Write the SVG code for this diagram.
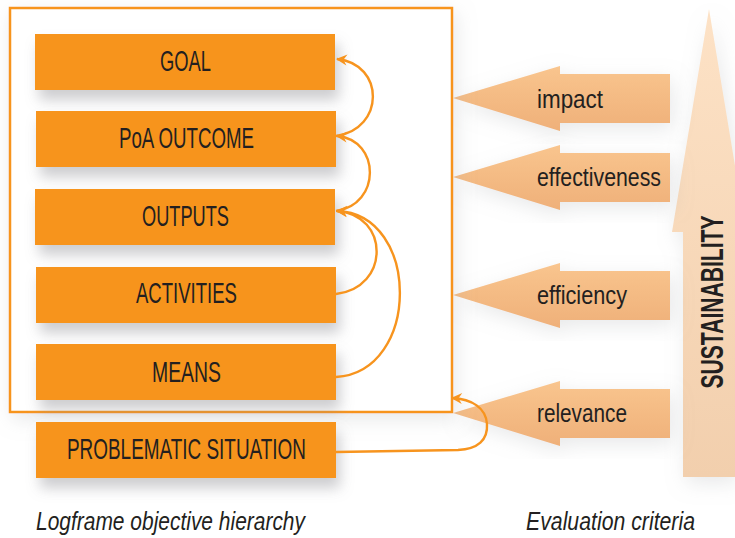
<svg xmlns="http://www.w3.org/2000/svg" xmlns:xlink="http://www.w3.org/1999/xlink" width="735" height="538" viewBox="0 0 735 538">
  <defs>
    <style>
      .box { fill: #F7941E; }
      .lbl { font-family: "Liberation Sans", Arial, sans-serif; font-size: 29px; fill: #231F20; text-anchor: middle; }
      .crit { font-family: "Liberation Sans", Arial, sans-serif; font-size: 26px; fill: #231F20; }
      .cap { font-family: "Liberation Sans", Arial, sans-serif; font-size: 25px; font-style: italic; fill: #231F20; }
      .conn { fill: none; stroke: #F7941E; stroke-width: 2.4; }
    </style>
    <filter id="shadow" x="-20%" y="-40%" width="150%" height="200%">
      <feDropShadow dx="4" dy="10" stdDeviation="7" flood-color="#8f9196" flood-opacity="0.45"/>
    </filter>
    <filter id="softshadow" x="-20%" y="-20%" width="140%" height="140%">
      <feDropShadow dx="3" dy="6" stdDeviation="10" flood-color="#a0a4a8" flood-opacity="0.25"/>
    </filter>
    <linearGradient id="critGrad" x1="0" y1="0" x2="0" y2="1">
      <stop offset="0" stop-color="#F9C58E"/>
      <stop offset="1" stop-color="#EFB079"/>
    </linearGradient>
    <linearGradient id="susGrad" x1="0" y1="0" x2="0" y2="1">
      <stop offset="0" stop-color="#FDE2C6"/>
      <stop offset="1" stop-color="#F2CFAD"/>
    </linearGradient>
    <path id="critArrow" d="M0,0 L107,-32 L107,-24 L217,-24 L217,25 L107,25 L107,33 Z"/>
    <marker id="barb" viewBox="-12 -7 14 14" markerWidth="14" markerHeight="14" refX="0" refY="0" orient="auto" markerUnits="userSpaceOnUse">
      <path d="M1,0 L-10,-5.5 L-6.5,0 L-10,5.5 Z" fill="#F7941E"/>
    </marker>
  </defs>

  <rect width="735" height="538" fill="#ffffff"/>

  <!-- Sustainability arrow -->
  <g id="sustainability">
    <polygon points="709,9 746,232 735,232 735,477 683,477 683,232 672,232" fill="url(#susGrad)" filter="url(#softshadow)"/>
    <text transform="translate(723,302) rotate(-90)" font-family="Liberation Sans, Arial, sans-serif" font-size="31" font-weight="bold" fill="#231F20" text-anchor="middle" textLength="173" lengthAdjust="spacingAndGlyphs">SUSTAINABILITY</text>
  </g>

  <!-- Evaluation criteria arrows -->
  <g id="impact">
    <use xlink:href="#critArrow" x="453" y="98" fill="url(#critGrad)" filter="url(#softshadow)"/>
    <text class="crit" x="537" y="108" textLength="66" lengthAdjust="spacingAndGlyphs">impact</text>
  </g>
  <g id="effectiveness">
    <use xlink:href="#critArrow" x="453" y="177" fill="url(#critGrad)" filter="url(#softshadow)"/>
    <text class="crit" x="537" y="186" textLength="124" lengthAdjust="spacingAndGlyphs">effectiveness</text>
  </g>
  <g id="efficiency">
    <use xlink:href="#critArrow" x="453" y="295" fill="url(#critGrad)" filter="url(#softshadow)"/>
    <text class="crit" x="537" y="304" textLength="90" lengthAdjust="spacingAndGlyphs">efficiency</text>
  </g>
  <g id="relevance">
    <use xlink:href="#critArrow" x="453" y="413" fill="url(#critGrad)" filter="url(#softshadow)"/>
    <text class="crit" x="537" y="422" textLength="90" lengthAdjust="spacingAndGlyphs">relevance</text>
  </g>

  <!-- Logframe frame -->
  <g id="logframe">
    <rect x="10" y="8" width="442" height="404" fill="#ffffff" stroke="#F7941E" stroke-width="2.5" filter="url(#softshadow)"/>
  </g>

  <g id="goal">
    <rect class="box" x="35" y="34" width="300" height="56" filter="url(#shadow)"/>
    <text class="lbl" x="185.5" y="71" textLength="51" lengthAdjust="spacingAndGlyphs">GOAL</text>
  </g>
  <g id="poa-outcome">
    <rect class="box" x="36" y="111" width="300" height="56" filter="url(#shadow)"/>
    <text class="lbl" x="186.5" y="148" textLength="135" lengthAdjust="spacingAndGlyphs">PoA OUTCOME</text>
  </g>
  <g id="outputs">
    <rect class="box" x="35" y="189" width="300" height="56" filter="url(#shadow)"/>
    <text class="lbl" x="185.5" y="226" textLength="87" lengthAdjust="spacingAndGlyphs">OUTPUTS</text>
  </g>
  <g id="activities">
    <rect class="box" x="36" y="267" width="300" height="56" filter="url(#shadow)"/>
    <text class="lbl" x="186.5" y="303" textLength="101" lengthAdjust="spacingAndGlyphs">ACTIVITIES</text>
  </g>
  <g id="means">
    <rect class="box" x="36" y="344" width="300" height="56" filter="url(#shadow)"/>
    <text class="lbl" x="186.5" y="382" textLength="69" lengthAdjust="spacingAndGlyphs">MEANS</text>
  </g>
  <g id="problematic-situation">
    <rect class="box" x="36" y="422" width="300" height="56" filter="url(#shadow)"/>
    <text class="lbl" x="186.5" y="459" textLength="239" lengthAdjust="spacingAndGlyphs">PROBLEMATIC SITUATION</text>
  </g>

  <!-- Connectors -->
  <g id="connectors">
    <path class="conn" marker-end="url(#barb)" d="M336,136 C385,129 385,64 337,59"/>
    <path class="conn" marker-end="url(#barb)" d="M336,211 C381,205 381,140 337,136"/>
    <path class="conn" marker-end="url(#barb)" d="M336,294 C390,288 390,215 337,211"/>
    <path class="conn" marker-end="url(#barb)" d="M336,377 C421,372 421,214 337,211"/>
    <path class="conn" marker-end="url(#barb)" d="M336,452 L458,450 C478,449 488,440 487,424 C486,408 472,399 452,398"/>
  </g>

  <!-- Captions -->
  <text class="cap" x="36" y="530" textLength="269" lengthAdjust="spacingAndGlyphs">Logframe objective hierarchy</text>
  <text class="cap" x="526" y="530" textLength="169" lengthAdjust="spacingAndGlyphs">Evaluation criteria</text>
</svg>
